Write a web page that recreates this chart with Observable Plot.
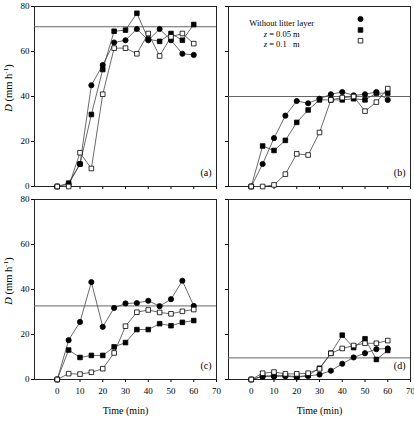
<!DOCTYPE html>
<html><head><meta charset="utf-8">
<script src="https://cdn.jsdelivr.net/npm/d3@7"></script>
<script src="https://cdn.jsdelivr.net/npm/@observablehq/plot@0.6"></script>
<style>
body{margin:0;background:#fff}
#chart{position:relative;width:414px;height:422px;font-family:"Liberation Serif","Times New Roman",serif;overflow:hidden}
#chart svg{position:absolute}
#chart svg, #chart svg text{font-family:"Liberation Serif","Times New Roman",serif !important;font-weight:normal}
</style></head><body><div id="chart"></div>
<script>
const times=[0,5,10,15,20,25,30,35,40,45,50,55,60];
const seriesNames=["Without litter layer","z = 0.05 m","z = 0.1\u00a0\u00a0\u00a0m"];
const panelLabels=["(a)","(b)","(c)","(d)"];
const referenceD=[71,40,32.7,9.6];
const yTicks=[0,20,40,60,80];
const xTicks=[0,10,20,30,40,50,60,70];
const xTitle="Time (min)";
// panel (a)
const aWithout=[0,1,10,45,54,64,65,70,65,70,65,59,58.5];
const aZ005=[0,1.5,10,32,52,69,69.5,77,65.5,64.5,68,65,72];
const aZ01=[0,0,15,8,41,61.5,61.5,59,68,58,66.5,68,63.5];
// panel (b)
const bWithout=[0,10,21.5,31.5,38,37,39,41,42,40.5,41,42,38.5];
const bZ005=[0,18,16,20.5,28.5,34,38.5,38.5,38.5,39,38.5,41.5,41.5];
const bZ01=[0,0,0.7,5.5,14.5,14,24,38.5,39.5,40,33.5,37.5,43.5];
// panel (c)
const cWithout=[0,17.5,25.6,43.3,23.4,31.8,33.8,34,35,32.6,35.7,43.9,32.7];
const cZ005=[0,13.1,9.8,10.7,10.7,14.5,16.4,22.2,22.2,24.8,23.9,25.4,26.2];
const cZ01=[0,2.6,2.4,3.2,4.8,11.8,23.7,29.9,30.9,29.8,29.2,30.3,31.1];
// panel (d)
const dWithout=[0,1.3,1.3,1.5,1.0,1.6,2.2,3.9,7.0,9.8,11.7,13.5,13.8];
const dZ005=[0,1.5,1.8,1.8,1.2,1.8,5.0,11.7,19.7,14.2,18.1,8.9,12.9];
const dZ01=[0,2.8,3.3,2.5,2.5,2.8,4.7,11.6,13.8,15.1,16.1,16.1,17.3];

const FONT='"Liberation Serif","Times New Roman",serif';
const styles=[{symbol:"circle",fill:"#000"},{symbol:"square",fill:"#000"},{symbol:"square",fill:"#fff"}];
const R=2.6;

function makePanel(idx, series, cfg){
  const rows=series.flatMap((vals,s)=>vals.map((v,i)=>({t:times[i],D:v,s})));
  const marks=[
    Plot.frame({stroke:"#222",strokeWidth:1}),
    Plot.ruleY([referenceD[idx]],{stroke:"#666",strokeWidth:1}),
    Plot.line(rows,{x:"t",y:"D",z:"s",stroke:"#444",strokeWidth:0.8}),
    ...styles.map((st,s)=>Plot.dot(rows.filter(d=>d.s===s),{x:"t",y:"D",symbol:st.symbol,fill:st.fill,stroke:"#000",strokeWidth:0.8,r:R})),
    Plot.text([panelLabels[idx]],{frameAnchor:"bottom-right",dx:-5,dy:-14,textAnchor:"end",lineAnchor:"middle",fontSize:10})
  ];
  if(cfg.bottom) marks.push(Plot.text([xTitle],{frameAnchor:"bottom",dy:31,lineAnchor:"middle",fontSize:10}));
  const svg=Plot.plot({
    width:cfg.width,height:cfg.height,
    marginLeft:cfg.ml,marginRight:4,marginTop:6,marginBottom:cfg.height-186,
    style:{fontFamily:FONT,fontSize:"9px",background:"transparent",color:"#000",overflow:"visible"},
    x:{domain:[-10,70],ticks:xTicks,tickSize:3,tickPadding:5,tickFormat:cfg.bottom?(d=>String(d)):(()=>""),label:null},
    y:{domain:[0,80],ticks:yTicks,tickSize:3,tickPadding:2,tickFormat:cfg.left?(d=>String(d)):(()=>""),label:null},
    marks
  });
  svg.style.left=cfg.left0+"px";
  svg.style.top=cfg.top0+"px";
  if(cfg.left){
    const t=d3.select(svg).append("text")
      .attr("transform","translate(10,88) rotate(-90)")
      .attr("text-anchor","middle").attr("dominant-baseline","middle")
      .attr("font-family",FONT).attr("font-size",10.5).attr("fill","#000");
    t.append("tspan").attr("font-style","italic").text("D");
    t.append("tspan").text(" (mm h");
    t.append("tspan").attr("font-size",7).attr("dy",-4).text("-1");
    t.append("tspan").attr("dy",4).text(")");
  }
  return svg;
}

const chart=document.getElementById("chart");
chart.append(makePanel(0,[aWithout,aZ005,aZ01],{width:220,height:193,ml:34,left:true,bottom:false,left0:0,top0:0}));
const svgB=makePanel(1,[bWithout,bZ005,bZ01],{width:207,height:193,ml:21,left:false,bottom:false,left0:207,top0:0});
chart.append(svgB);
chart.append(makePanel(2,[cWithout,cZ005,cZ01],{width:220,height:229,ml:34,left:true,bottom:true,left0:0,top0:193}));
chart.append(makePanel(3,[dWithout,dZ005,dZ01],{width:207,height:229,ml:21,left:false,bottom:true,left0:207,top0:193}));

// legend inside panel (b)
const leg=d3.select(svgB).append("g").attr("font-family",FONT).attr("font-size",8.5).attr("fill","#000");
const textY=[26.3,37.3,47.3], markY=[19,30,40.7];
seriesNames.forEach((name,i)=>{
  const t=leg.append("text").attr("x",74.7).attr("y",textY[i]).attr("xml:space","preserve");
  if(name.startsWith("z ")){
    t.append("tspan").attr("font-style","italic").text("z");
    t.append("tspan").text(name.slice(1));
  } else t.text(name);
  const sym=d3.symbol(styles[i].symbol==="circle"?d3.symbolCircle:d3.symbolSquare,Math.PI*R*R)();
  leg.append("path").attr("d",sym).attr("transform",`translate(153.5,${markY[i]})`)
    .attr("fill",styles[i].fill).attr("stroke","#000").attr("stroke-width",0.8);
});
</script></body></html>
